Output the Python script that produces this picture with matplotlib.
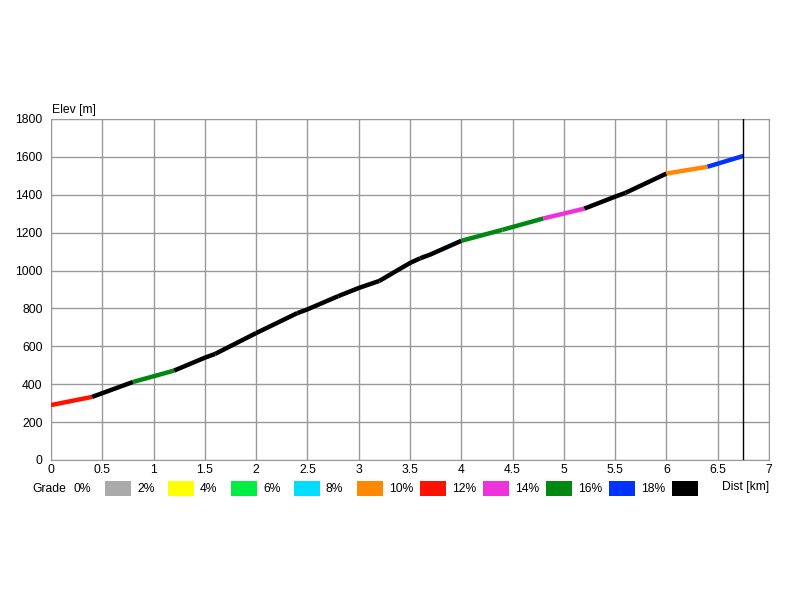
import matplotlib
matplotlib.use('Agg')
import matplotlib.pyplot as plt
from matplotlib.patches import Rectangle

# profil (distance en km, altitude en m)
dist = [0, 0.4, 0.8, 1.2, 1.5, 1.6, 2.0, 2.4, 2.5, 2.8, 3.0, 3.2, 3.5, 3.6, 3.7,
        4.0, 4.4, 4.8, 5.2, 5.5, 5.6, 6.0, 6.4, 6.75]
elev = [290, 333, 412, 472, 540, 560, 670, 775, 795, 865, 908, 945, 1040, 1065, 1085,
        1157, 1215, 1275, 1327, 1390, 1410, 1512, 1548, 1605]

# bornes des troncons colores (tous les 0.4 km)
seg_bounds = [0, 0.4, 0.8, 1.2, 1.6, 2.0, 2.4, 2.8, 3.2, 3.6, 4.0, 4.4, 4.8, 5.2, 5.6, 6.0, 6.4, 6.75]

grade_labels = ['0%', '2%', '4%', '6%', '8%', '10%', '12%', '14%', '16%', '18%']
grade_colors = ['#aaaaaa', '#ffff00', '#00ee44', '#00ddff', '#ff8800',
                '#ff1100', '#ee33dd', '#008811', '#0033ff', '#000000']

plt.rcParams['font.family'] = ['Liberation Sans', 'DejaVu Sans']
FS = 8.7

fig = plt.figure(figsize=(8, 6), dpi=100)
ax = fig.add_axes([51/800, 140/600, 718/800, 341/600])

def couleur(g):
    idx = int(g // 2)
    return grade_colors[max(0, min(idx, len(grade_colors) - 1))]

for a, b in zip(seg_bounds[:-1], seg_bounds[1:]):
    xs = [d for d in dist if a <= d <= b]
    ys = [elev[dist.index(d)] for d in xs]
    grade = (ys[-1] - ys[0]) / ((xs[-1] - xs[0]) * 1000) * 100
    ax.plot(xs, ys, color=couleur(grade), lw=3.2, solid_capstyle='butt', zorder=3)

ax.axvline(dist[-1], color='black', lw=1, zorder=4)

ax.set_xlim(0, 7)
ax.set_ylim(0, 1800)
ax.set_xticks([i * 0.5 for i in range(15)])
ax.set_xticklabels(['0', '0.5', '1', '1.5', '2', '2.5', '3', '3.5', '4', '4.5',
                    '5', '5.5', '6', '6.5', '7'])
ax.set_yticks(range(0, 1801, 200))
ax.tick_params(length=0, labelsize=FS, pad=3)
ax.tick_params(axis='y', pad=6)
ax.grid(True, color='#999999', lw=1)
ax.set_axisbelow(True)
for s in ax.spines.values():
    s.set_color('#999999')

fig.text(52/800, 1 - 110/600, 'Elev [m]', fontsize=FS, va='center', ha='left')
fig.text(722/800, 1 - 487/600, 'Dist [km]', fontsize=FS, va='center', ha='left')

# legende des pentes
ly = 1 - 489/600
fig.text(32/800, ly, 'Grade', fontsize=FS, va='center', ha='left')
for i, (lab, col) in enumerate(zip(grade_labels, grade_colors)):
    fig.text((74 + 63 * i) / 800, ly, lab, fontsize=FS, va='center', ha='left')
    fig.patches.append(Rectangle(((105 + 63 * i) / 800, 1 - 496/600), 26/800, 15/600,
                                 transform=fig.transFigure, facecolor=col, edgecolor='none'))

fig.savefig('out.png', dpi=100)
